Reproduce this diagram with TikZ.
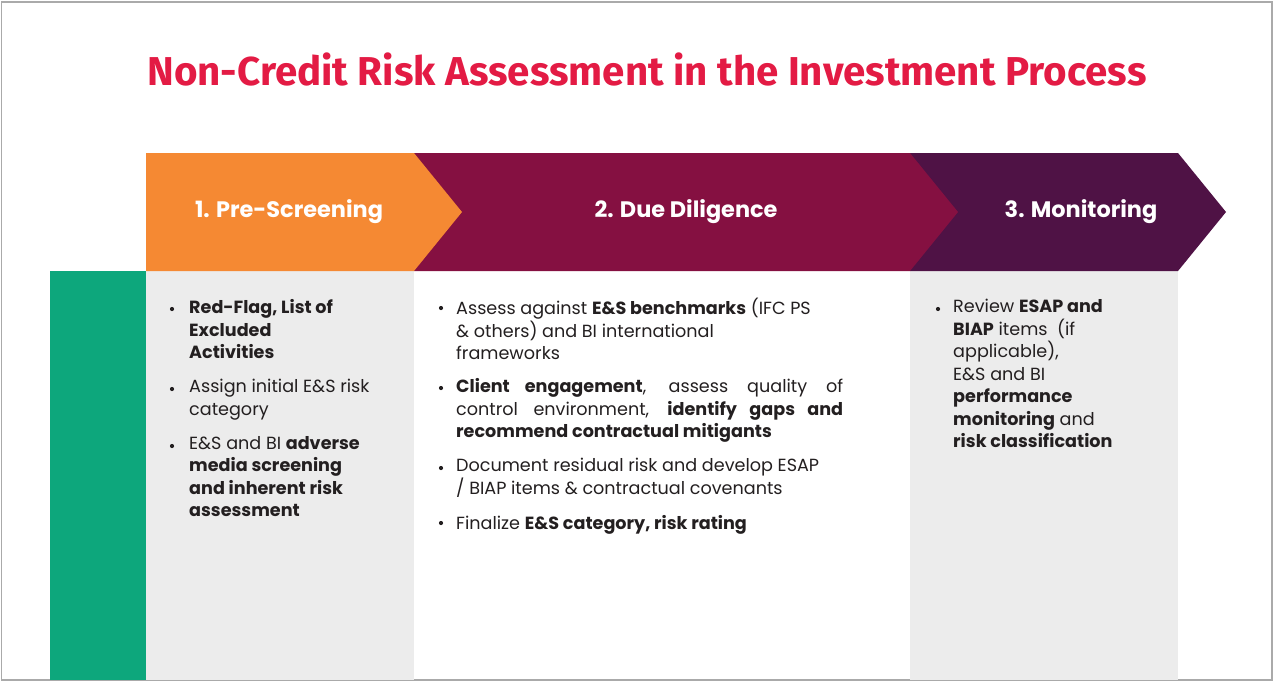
\documentclass[tikz,border=0pt]{standalone}
\usepackage{fontspec}
\setmainfont{Poppins}
\newfontfamily\titlefont{Fira Sans}
\usetikzlibrary{positioning}

\definecolor{titlered}{RGB}{227,27,68}
\definecolor{stepone}{RGB}{245,137,51}
\definecolor{steptwo}{RGB}{133,16,65}
\definecolor{stepthree}{RGB}{79,18,69}
\definecolor{sidegreen}{RGB}{13,167,124}
\definecolor{colgray}{RGB}{236,236,236}
\definecolor{bodytext}{RGB}{35,31,32}
\definecolor{framegray}{RGB}{170,170,170}

\tikzset{
  head/.style={anchor=base, text=white, inner sep=0pt, font=\fontsize{22.4}{26}\selectfont\bfseries},
  para/.style={anchor=north west, inner sep=0pt, align=left, text=bodytext, font=\fontsize{17.6}{22.5}\selectfont, execute at begin node=\strut},
  dot/.style={circle, fill=bodytext, inner sep=0pt, minimum size=4.2pt}
}

\begin{document}
\begin{tikzpicture}[x=1pt,y=-1pt]
    \useasboundingbox (0,0) rectangle (1274,681);
    % frame
    \draw [framegray, line width=1.2pt] (1.5,2) rectangle (1272,680);

    % title
    \node [anchor=base, inner sep=0pt, text=titlered, font=\titlefont\fontsize{40.3}{44}\selectfont\bfseries] (title) at (647,85) {Non-Credit Risk Assessment in the Investment Process};

    % columns
    \fill [sidegreen] (50,271) rectangle (146,680);
    \fill [colgray] (146,271) rectangle (414,680);
    \fill [colgray] (910,271) rectangle (1178,680);

    % chevrons, right to left so the tips overlap
    \fill [stepthree] (910,153) -- (1178,153) -- (1226,212) -- (1178,271) -- (910,271) -- cycle;
    \fill [steptwo] (414,153) -- (910,153) -- (958,212) -- (910,271) -- (414,271) -- cycle;
    \fill [stepone] (146,153) -- (414,153) -- (462,212) -- (414,271) -- (146,271) -- cycle;
    % label
    \node [head] (h1) at (289,217) {1. Pre-Screening};
    \node [head] (h2) at (686,217) {2. Due Diligence};
    \node [head] (h3) at (1081,217) {3. Monitoring};

    % pre-screening (strut top = baseline - 15.75)
    \node [para] (p1) at (189,299.25) {\textbf{Red-Flag, List of}\\\textbf{Excluded}\\\textbf{Activities}};
    \node [para] (p2) at (189,379.25) {Assign initial E\&S risk\\category};
    \node [para] (p3) at (189,436.25) {E\&S and BI \textbf{adverse}\\\textbf{media screening}\\\textbf{and inherent risk}\\\textbf{assessment}};
    \node [dot] (d1) at (172,309) {};
    \node [dot] (d2) at (172,389) {};
    \node [dot] (d3) at (172,446) {};

    % due diligence
    \node [para] (q1) at (456,298) {Assess against \textbf{E\&S benchmarks} (IFC PS\\\& others) and BI international\\frameworks};
    \node [para] (q2) at (456,378.5) {\makebox[387pt][s]{\textbf{Client engagement}, assess quality of}\\\makebox[387pt][s]{control environment, \textbf{identify gaps and}}\\\textbf{recommend contractual mitigants}};
    \node [para] (q3) at (456,458.25) {Document residual risk and develop ESAP\\/ BIAP items \& contractual covenants};
    \node [para] (q4) at (456,513.5) {Finalize \textbf{E\&S category, risk rating}};
    \node [dot] (e1) at (441,308) {};
    \node [dot] (e2) at (441,388) {};
    \node [dot] (e3) at (441,468) {};
    \node [dot] (e4) at (441,523) {};

    % monitoring
    \node [para] (r1) at (953,299.25) {Review \textbf{ESAP and}\\\textbf{BIAP} items\ \ (if\\applicable),\\E\&S and BI\\\textbf{performance}\\\textbf{monitoring} and\\\textbf{risk classification}};
    \node [dot] (f1) at (938,309) {};
\end{tikzpicture}
\end{document}
